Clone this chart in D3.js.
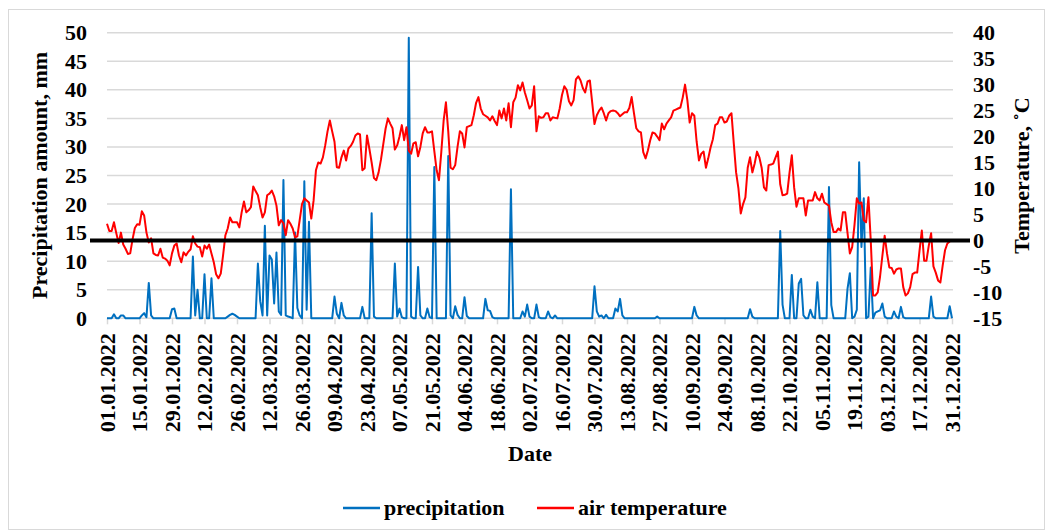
<!DOCTYPE html>
<html>
<head>
<meta charset="utf-8">
<script src="https://cdn.jsdelivr.net/npm/d3@7"></script>
<style>
  body { margin: 0; background: #fff; }
  text { font-family: "Liberation Serif", "Times New Roman", serif; font-weight: bold; fill: #000; }
</style>
</head>
<body>
<svg id="chart" width="1046" height="531"></svg>
<script>
// Date labels, one every 14 days (day index 0, 14, 28, ...)
const tickLabels = [
  "01.01.2022", "15.01.2022", "29.01.2022", "12.02.2022", "26.02.2022", "12.03.2022",
  "26.03.2022", "09.04.2022", "23.04.2022", "07.05.2022", "21.05.2022", "04.06.2022",
  "18.06.2022", "02.07.2022", "16.07.2022", "30.07.2022", "13.08.2022", "27.08.2022",
  "10.09.2022", "24.09.2022", "08.10.2022", "22.10.2022", "05.11.2022", "19.11.2022",
  "03.12.2022", "17.12.2022", "31.12.2022"
];

// Daily precipitation, mm (01.01.2022 - 31.12.2022), 14 days per row
const precipitation = [
  0, 0, 0, 0.7, 0, 0, 0.5, 0.5, 0, 0, 0, 0, 0, 0,
  0, 0.5, 0.9, 0.2, 6.2, 0.5, 0, 0, 0, 0, 0, 0, 0, 0,
  1.6, 1.7, 0, 0, 0, 0, 0, 0, 0, 10.8, 0.5, 5.0, 0, 0,
  7.7, 0, 0, 7.0, 0, 0, 0, 0, 0, 0, 0.3, 0.6, 0.8, 0.6,
  0.3, 0, 0, 0, 0, 0, 0, 0, 0, 9.6, 3.0, 0.5, 16.2, 0.5,
  11.0, 10.3, 2.6, 11.5, 1.2, 0.6, 24.2, 0.5, 0.3, 0.2, 0, 15.0, 1.8, 0.5,
  0, 24.0, 1.5, 16.9, 0, 0, 0, 0, 0, 0, 0, 0, 0, 0,
  3.8, 0.8, 0, 2.7, 0.5, 0, 0, 0, 0, 0, 0, 0, 2.0, 0,
  0, 0, 18.4, 0.3, 0, 0, 0, 0, 0, 0, 0, 0, 9.6, 0.3,
  1.7, 0.2, 0, 0, 49.1, 0.3, 0, 0, 9.0, 0.5, 0, 0, 1.7, 0.2,
  0, 26.5, 0, 0, 0, 0, 0, 28.4, 0.5, 0, 2.1, 0.6, 0, 0,
  3.7, 0.4, 0, 0, 0, 0, 0, 0, 0, 3.4, 1.4, 1.3, 0.2, 0,
  0, 0, 0, 0, 0, 0, 22.6, 0, 0, 0, 0, 1.2, 0.3, 2.4,
  0.3, 0, 0, 2.4, 0.2, 0, 0, 0, 1.2, 0.2, 0, 0.5, 0, 0,
  0, 0, 0, 0, 0, 0, 0, 0, 0, 0, 0, 0, 0, 0,
  5.6, 1.2, 0.3, 0.5, 0, 0.6, 0, 0, 0, 1.7, 1.2, 3.4, 0.5, 0,
  0, 0, 0, 0, 0, 0, 0, 0, 0, 0, 0, 0, 0, 0.3,
  0, 0, 0, 0, 0, 0, 0, 0, 0, 0, 0, 0, 0, 0,
  0, 2.0, 0.5, 0, 0, 0, 0, 0, 0, 0, 0, 0, 0, 0,
  0, 0, 0, 0, 0, 0, 0, 0, 0, 0, 0, 1.6, 0.3, 0,
  0, 0, 0, 0, 0, 0, 0, 0, 0, 0, 15.3, 2.4, 0, 0,
  0, 7.6, 0, 0, 6.1, 6.9, 0.5, 0, 0, 1.5, 0.3, 0, 6.3, 0,
  0, 0, 0, 23.0, 2.3, 0, 0, 0, 0, 0, 0, 5.2, 7.9, 0,
  0.3, 1.5, 27.3, 12.5, 21.0, 0, 0.3, 8.9, 0, 1.0, 1.2, 1.4, 2.6, 0.3,
  0, 0, 0, 1.2, 0.3, 0, 2.0, 0.2, 0, 0, 0, 0, 0, 0,
  0, 0, 0, 0, 0, 3.8, 0.3, 0, 0, 0, 0, 0, 0, 2.1,
  0
];

// Daily mean air temperature, °C, 14 days per row
const temperature = [
  3.2, 1.8, 1.8, 3.5, 1.4, -0.5, 1.5, -0.8, -1.6, -2.6, -2.5, 0.2, 2.4, 3.1,
  3.0, 5.6, 4.8, 1.5, -0.4, 0.4, -2.5, -2.8, -2.9, -1.6, -3.3, -3.5, -3.9, -4.8,
  -2.5, -1.0, -0.6, -2.9, -4.2, -2.3, -2.9, -2.2, -1.7, 0.8, -0.6, -1.2, -1.3, -3.1,
  -1.0, -1.6, -0.8, -2.5, -4.2, -6.5, -7.3, -6.4, -2.9, 1.0, 2.3, 4.4, 3.5, 3.5,
  3.5, 2.5, 5.4, 7.5, 5.4, 5.8, 6.4, 10.4, 9.5, 8.7, 6.4, 4.4, 5.4, 8.7,
  9.0, 9.6, 8.5, 6.7, 2.9, 3.9, 3.3, 1.0, 3.9, 3.2, 2.3, 0.6, 0.8, 3.9,
  7.0, 8.1, 7.7, 7.3, 4.2, 7.7, 13.5, 15.0, 14.8, 16.0, 18.3, 21.0, 23.1, 21.0,
  19.0, 14.1, 14.0, 16.0, 17.3, 15.4, 17.7, 18.2, 19.0, 20.2, 20.6, 20.4, 13.5, 13.9,
  20.2, 17.7, 15.0, 12.0, 11.6, 13.1, 15.5, 18.5, 21.5, 23.5, 22.5, 21.6, 17.5, 18.3,
  20.0, 22.2, 19.3, 21.8, 17.3, 16.7, 18.7, 18.9, 16.2, 18.0, 20.6, 21.8, 20.8, 20.8,
  21.0, 17.2, 13.5, 11.6, 17.0, 23.0, 26.6, 21.0, 14.0, 13.7, 14.5, 18.0, 21.0, 20.6,
  17.9, 21.8, 22.0, 22.2, 24.1, 26.5, 27.6, 25.4, 24.3, 24.0, 23.7, 23.1, 23.9, 23.0,
  22.2, 25.0, 23.5, 25.4, 23.1, 26.4, 21.8, 26.6, 27.5, 29.9, 28.9, 30.4, 28.5, 27.0,
  25.4, 26.0, 29.7, 21.0, 23.9, 23.6, 23.7, 24.5, 24.5, 23.1, 23.7, 23.6, 23.5, 25.4,
  28.0, 29.7, 29.0, 26.8, 26.0, 27.0, 31.0, 31.6, 30.8, 29.3, 28.5, 30.6, 30.8, 26.6,
  22.4, 24.1, 25.0, 25.6, 24.5, 23.1, 24.5, 24.9, 25.0, 24.9, 24.5, 23.9, 24.3, 24.7,
  24.7, 25.5, 27.6, 24.5, 21.6, 21.0, 20.8, 17.0, 15.8, 17.3, 19.3, 20.8, 20.6, 20.0,
  19.3, 22.5, 21.4, 22.5, 23.1, 23.7, 25.0, 25.2, 25.4, 25.6, 27.5, 30.0, 27.0, 22.7,
  24.5, 24.0, 19.0, 15.4, 16.7, 17.1, 14.0, 15.8, 17.9, 19.5, 22.2, 22.5, 23.7, 23.7,
  22.7, 22.9, 24.0, 24.5, 18.7, 13.1, 10.0, 5.2, 7.0, 8.3, 14.0, 16.0, 13.1, 14.8,
  17.1, 16.0, 14.0, 10.2, 9.6, 14.5, 14.6, 14.8, 16.0, 17.1, 10.8, 8.7, 8.8, 9.0,
  13.0, 16.4, 10.2, 6.5, 8.1, 8.1, 8.1, 4.8, 7.7, 7.7, 7.7, 9.3, 8.1, 7.7,
  9.0, 7.3, 7.0, 6.7, 3.5, 1.6, 1.6, 2.3, 1.9, 5.4, 5.4, 1.4, -2.5, -1.3,
  3.0, 8.1, 7.1, 7.3, 3.9, 3.5, 8.3, 0.0, -10.6, -10.6, -10.0, -7.0, -3.0, 0.9,
  -2.5, -5.2, -5.3, -6.4, -5.6, -5.4, -5.4, -9.0, -10.6, -10.2, -9.0, -6.5, -6.2, -6.2,
  -2.0, 1.9, -3.9, -3.9, -1.0, 1.4, -5.0, -6.2, -7.7, -8.1, -4.8, -1.9, -0.6, -0.2,
  0.0
];

const precipTicks = [0, 5, 10, 15, 20, 25, 30, 35, 40, 45, 50];
const tempTicks = [-15, -10, -5, 0, 5, 10, 15, 20, 25, 30, 35, 40];

const svg = d3.select("#chart");
const FS = 22;

const plotLeft = 107, plotRight = 952, plotTop = 32.7, plotBottom = 318.3;

const x = d3.scaleLinear().domain([0, temperature.length - 1]).range([plotLeft, plotRight]);
const yP = d3.scaleLinear().domain([0, 50]).range([plotBottom, plotTop]);
const yT = d3.scaleLinear().domain([-15, 40]).range([plotBottom, plotTop]);

// chart area frame
svg.append("rect")
  .attr("x", 8.5).attr("y", 9.5).attr("width", 1036).attr("height", 520)
  .attr("fill", "none").attr("stroke", "#d9d9d9").attr("stroke-width", 1);

// horizontal gridlines
svg.append("g").selectAll("line")
  .data(precipTicks.filter(v => v > 0))
  .join("line")
  .attr("x1", plotLeft).attr("x2", plotRight + 1)
  .attr("y1", d => yP(d)).attr("y2", d => yP(d))
  .attr("stroke", "#d9d9d9").attr("stroke-width", 1.5);

// date axis
const xAxis = svg.append("g")
  .attr("transform", `translate(0,${plotBottom})`)
  .call(d3.axisBottom(x)
    .tickValues(tickLabels.map((_, i) => i * 14))
    .tickFormat((d, i) => tickLabels[i])
    .tickSize(6)
    .tickSizeOuter(0));
xAxis.select(".domain").attr("stroke", "#d9d9d9").attr("stroke-width", 1.5)
  .attr("d", `M${plotLeft},0H${plotRight + 1}`);
xAxis.selectAll(".tick line").attr("stroke", "#d9d9d9").attr("stroke-width", 1.5);
xAxis.selectAll(".tick text")
  .attr("transform", "rotate(-90)")
  .attr("x", -15).attr("y", 0).attr("dy", "0.34em")
  .style("text-anchor", "end")
  .style("font-size", FS + "px")
  .style("font-family", '"Liberation Serif", serif')
  .style("font-weight", "bold");

// precipitation axis (left)
const yLeft = svg.append("g")
  .attr("transform", `translate(${plotLeft},0)`)
  .call(d3.axisLeft(yP).tickValues(precipTicks).tickSize(0).tickPadding(20).tickFormat(d => String(d)));
yLeft.select(".domain").remove();
yLeft.selectAll("text").style("font-size", FS + "px")
  .style("font-family", '"Liberation Serif", serif').style("font-weight", "bold");

// temperature axis (right)
const yRight = svg.append("g")
  .attr("transform", `translate(${plotRight + 1},0)`)
  .call(d3.axisRight(yT).tickValues(tempTicks).tickSize(0).tickPadding(20).tickFormat(d => String(d)));
yRight.select(".domain").remove();
yRight.selectAll("text").style("font-size", FS + "px")
  .style("font-family", '"Liberation Serif", serif').style("font-weight", "bold");

// series
const precipLine = d3.line().x((d, i) => x(i)).y(d => yP(d));
const tempLine = d3.line().x((d, i) => x(i)).y(d => yT(d));

svg.append("path").datum(precipitation)
  .attr("d", precipLine)
  .attr("fill", "none").attr("stroke", "#0070c0").attr("stroke-width", 2)
  .attr("stroke-linejoin", "round");

svg.append("path").datum(temperature)
  .attr("d", tempLine)
  .attr("fill", "none").attr("stroke", "#ff0000").attr("stroke-width", 2)
  .attr("stroke-linejoin", "round");

// 0 °C reference line
svg.append("line")
  .attr("x1", 90).attr("x2", 970)
  .attr("y1", yT(0)).attr("y2", yT(0))
  .attr("stroke", "#000").attr("stroke-width", 4);

// axis titles
svg.append("text")
  .attr("transform", `translate(47,${(plotTop + plotBottom) / 2}) rotate(-90)`)
  .attr("text-anchor", "middle")
  .style("font-size", FS + "px")
  .text("Precipitation amount, mm");

svg.append("text")
  .attr("transform", `translate(1029,${(plotTop + plotBottom) / 2}) rotate(-90)`)
  .attr("text-anchor", "middle")
  .style("font-size", FS + "px")
  .text("Temperature, ˚C");

svg.append("text")
  .attr("x", 530).attr("y", 461)
  .attr("text-anchor", "middle")
  .style("font-size", FS + "px")
  .text("Date");

// legend
const legendItems = [
  { label: "precipitation", color: "#0070c0", x: 343 },
  { label: "air temperature", color: "#ff0000", x: 537 }
];
const legend = svg.append("g").selectAll("g").data(legendItems).join("g")
  .attr("transform", d => `translate(${d.x},508)`);
legend.append("line").attr("x1", 0).attr("x2", 37).attr("y1", 0).attr("y2", 0)
  .attr("stroke", d => d.color).attr("stroke-width", 2.5);
legend.append("text").attr("x", 41).attr("y", 7)
  .style("font-size", FS + "px")
  .text(d => d.label);
</script>
</body>
</html>
